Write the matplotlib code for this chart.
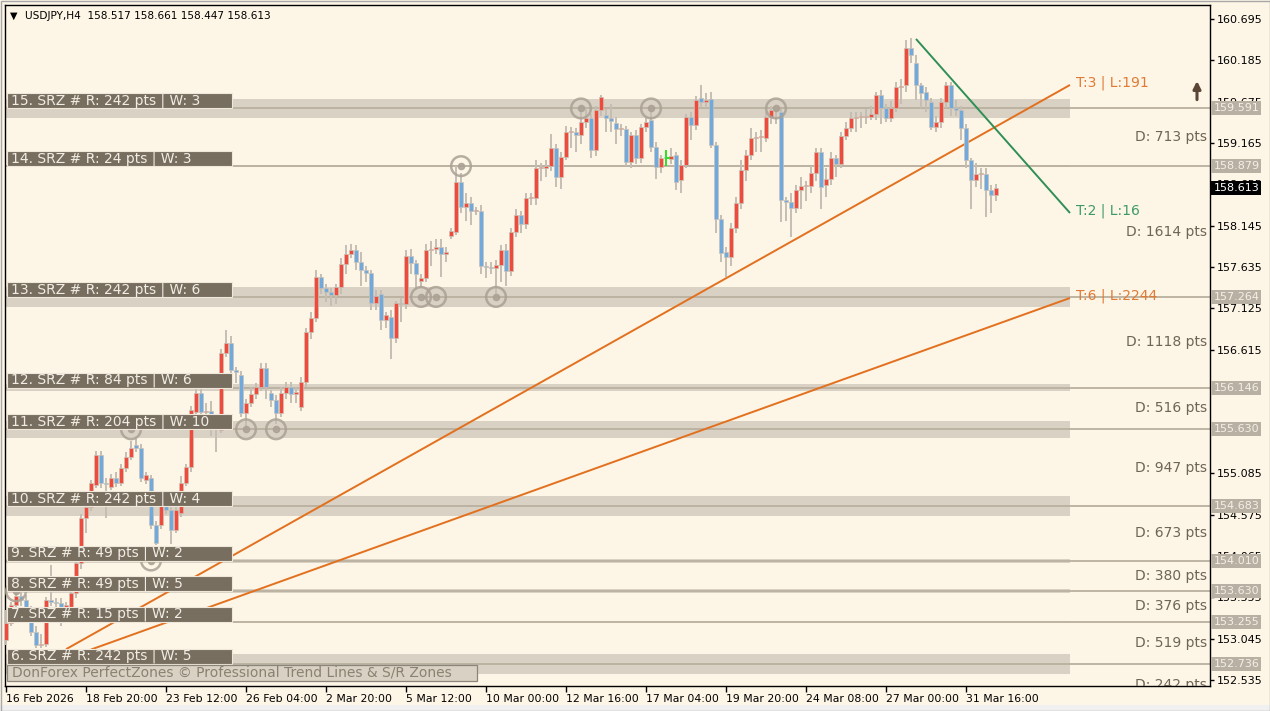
import matplotlib
matplotlib.use("Agg")
import matplotlib.pyplot as plt
import matplotlib.transforms as mtransforms
from matplotlib.patches import Rectangle
import numpy as np

plt.rcParams['font.family'] = ['DejaVu Sans']

BG = "#fdf5e6"

# ---------------- data ----------------
opens = [153.03,153.24,153.46,153.57,153.52,153.40,153.13,152.97,152.98,153.52,
         153.50,153.49,153.37,153.44,153.61,153.98,154.54,154.67,154.94,155.31,
         154.97,154.92,155.03,154.97,155.15,155.29,155.44,155.40,155.00,155.03,
         154.45,154.45,154.72,154.63,154.39,154.60,154.97,155.16,155.84,156.08,
         155.84,155.85,155.68,155.62,156.57,156.70,156.36,156.30,155.83,155.96,
         156.07,156.15,156.39,156.08,155.99,155.83,156.08,156.15,156.07,155.90,
         156.21,156.83,157.00,157.51,157.37,157.33,157.29,157.39,157.67,157.79,
         157.84,157.70,157.60,157.56,157.19,157.30,156.98,157.02,156.76,157.19,
         157.18,157.77,157.68,157.46,157.50,157.84,157.86,157.88,157.80,158.02,
         158.07,158.68,158.37,158.42,158.33,158.33,157.65,157.63,157.62,157.66,
         157.84,157.58,158.07,158.28,158.17,158.49,158.49,158.86,158.86,158.88,
         159.10,158.75,158.99,159.30,159.30,159.26,159.42,159.47,159.08,159.57,
         159.51,159.47,159.41,159.34,159.34,158.93,159.26,158.98,159.36,159.45,
         159.12,158.87,158.98,158.97,159.02,158.71,158.89,159.49,159.39,159.72,
         159.67,159.71,159.14,158.23,157.82,157.76,158.12,158.42,158.83,159.02,
         159.23,159.24,159.23,159.49,159.57,159.55,158.46,158.44,158.36,158.58,
         158.63,158.63,158.79,159.05,158.65,158.72,158.98,158.91,159.25,159.35,
         159.47,159.49,159.49,159.49,159.52,159.76,159.60,159.47,159.60,159.86,
         159.88,160.34,160.15,159.88,159.79,159.67,159.36,159.42,159.67,159.88,
         159.60,159.57,159.35,158.96,158.71,158.78,158.78,158.58,158.517]
closes = [153.24,153.46,153.57,153.52,153.40,153.13,152.97,152.98,153.52,153.50,
          153.49,153.37,153.46,153.61,153.98,154.54,154.67,154.97,155.31,154.97,
          154.96,155.03,154.97,155.15,155.29,155.40,155.40,155.03,155.07,154.45,
          154.23,154.72,154.63,154.39,154.63,154.97,155.16,155.87,156.08,155.84,
          155.85,155.68,155.63,156.57,156.70,156.36,156.34,155.83,155.96,156.07,
          156.15,156.39,156.15,155.99,155.83,156.08,156.15,156.07,156.09,156.21,
          156.83,157.00,157.51,157.37,157.33,157.29,157.39,157.67,157.79,157.84,
          157.70,157.60,157.56,157.19,157.28,156.98,157.04,156.76,157.19,157.18,
          157.77,157.68,157.55,157.50,157.84,157.86,157.88,157.80,157.82,158.08,
          158.68,158.37,158.42,158.33,158.33,157.65,157.63,157.62,157.66,157.84,
          157.58,158.07,158.28,158.17,158.49,158.49,158.86,158.86,158.88,159.10,
          158.75,158.99,159.30,159.30,159.26,159.42,159.47,159.08,159.57,159.73,
          159.47,159.44,159.34,159.34,158.93,159.26,158.98,159.36,159.42,159.12,
          158.87,158.98,158.98,159.00,158.68,158.89,159.49,159.39,159.70,159.67,
          159.70,159.14,158.23,157.81,157.76,158.12,158.42,158.83,159.02,159.23,
          159.24,159.24,159.49,159.57,159.58,158.46,158.44,158.36,158.58,158.63,
          158.63,158.79,159.05,158.62,158.72,158.98,158.91,159.25,159.35,159.47,
          159.49,159.49,159.49,159.52,159.76,159.60,159.47,159.60,159.86,159.87,
          160.34,160.25,159.88,159.78,159.70,159.36,159.42,159.67,159.88,159.60,
          159.57,159.35,158.96,158.71,158.78,158.78,158.58,158.52,158.613]
highs = [153.40,153.50,153.62,153.63,153.58,153.45,153.20,153.10,153.56,153.95,
         153.55,153.55,153.50,153.66,154.02,154.58,154.72,155.00,155.36,155.36,
         155.03,155.08,155.10,155.20,155.35,155.48,155.52,155.45,155.10,155.06,
         154.50,154.78,154.80,154.68,154.67,155.05,155.20,155.92,156.22,156.20,
         155.95,155.98,155.80,156.62,156.85,156.78,156.40,156.35,156.00,156.15,
         156.20,156.45,156.45,156.12,156.05,156.15,156.22,156.22,156.15,156.28,
         156.88,157.08,157.60,157.55,157.42,157.38,157.42,157.75,157.90,157.92,
         157.90,157.82,157.65,157.60,157.35,157.35,157.08,157.10,157.22,157.25,
         157.84,157.85,157.72,157.55,157.92,157.95,157.98,157.98,157.88,158.12,
         158.88,158.80,158.55,158.50,158.38,158.40,157.70,157.70,157.72,157.90,
         157.92,158.12,158.35,158.32,158.55,158.55,158.95,158.92,158.95,159.28,
         159.15,159.05,159.38,159.36,159.35,159.60,159.60,159.52,159.62,159.76,
         159.58,159.65,159.48,159.40,159.38,159.30,159.32,159.40,159.48,159.60,
         159.18,159.02,159.08,159.10,159.05,158.95,159.52,159.55,159.75,159.88,
         159.78,159.80,159.18,158.28,157.88,158.18,158.50,158.95,159.08,159.35,
         159.30,159.32,159.55,159.62,159.60,159.58,158.50,158.55,158.65,158.75,
         158.70,158.88,159.10,159.10,158.85,159.05,159.02,159.30,159.42,159.55,
         159.55,159.55,159.58,159.62,159.80,159.82,159.65,159.68,159.92,159.95,
         160.44,160.46,160.25,159.90,159.85,159.72,159.50,159.72,159.92,159.92,
         159.70,159.62,159.40,158.98,158.92,158.85,158.85,158.65,158.661]
lows = [152.97,153.20,153.42,153.45,153.36,153.08,152.93,152.93,152.94,153.45,
        153.40,153.20,153.30,153.40,153.55,153.90,154.35,154.62,154.90,154.90,
        154.54,154.88,154.92,154.93,155.10,155.25,155.35,154.98,154.96,154.40,
        154.20,154.40,154.58,154.22,154.35,154.55,154.93,155.10,155.80,155.80,
        155.75,155.55,155.35,155.58,156.52,156.30,156.20,155.78,155.65,155.90,
        156.00,156.10,156.00,155.90,155.70,155.78,156.00,155.95,155.95,155.85,
        156.15,156.75,156.95,157.30,157.20,157.15,157.18,157.30,157.55,157.75,
        157.60,157.40,157.45,157.10,157.10,156.85,156.88,156.50,156.70,156.95,
        157.12,157.55,157.35,157.38,157.45,157.65,157.80,157.51,157.70,157.98,
        158.03,158.30,158.20,158.15,158.28,157.55,157.50,157.55,157.30,157.45,
        157.40,157.52,158.00,158.05,158.10,158.40,158.40,158.70,158.75,158.82,
        158.62,158.60,158.95,159.10,159.05,159.15,159.35,158.98,159.00,159.50,
        159.30,159.30,159.15,159.25,158.88,158.85,158.90,158.92,159.30,159.05,
        158.72,158.80,158.88,158.90,158.58,158.55,158.85,159.20,159.33,159.60,
        159.60,159.10,158.05,157.70,157.51,157.65,158.05,158.35,158.70,158.95,
        159.05,159.05,159.18,159.40,159.40,158.19,158.20,158.00,158.30,158.35,
        158.45,158.55,158.70,158.35,158.50,158.65,158.75,158.85,159.20,159.30,
        159.30,159.35,159.40,159.45,159.45,159.40,159.42,159.42,159.55,159.65,
        159.80,160.15,159.70,159.60,159.55,159.32,159.30,159.35,159.60,159.50,
        159.50,159.20,158.85,158.35,158.62,158.60,158.25,158.30,158.447]

green_doji_bar = 132

date_tick_bars = [0, 16, 32, 48, 64, 80, 96, 112, 128, 144, 160, 176, 192]
date_tick_labels = ["16 Feb 2026", "18 Feb 20:00", "23 Feb 12:00", "26 Feb 04:00",
                    "2 Mar 20:00", "5 Mar 12:00", "10 Mar 00:00", "12 Mar 16:00",
                    "17 Mar 04:00", "19 Mar 20:00", "24 Mar 08:00", "27 Mar 00:00",
                    "31 Mar 16:00"]

price_ticks = [160.695, 160.185, 159.675, 159.165, 158.655, 158.145, 157.635,
               157.125, 156.615, 156.105, 155.595, 155.085, 154.575, 154.065,
               153.555, 153.045, 152.535]

zone_ids = [15, 14, 13, 12, 11, 10, 9, 8, 7, 6]
zone_levels = [159.591, 158.879, 157.264, 156.146, 155.630, 154.683, 154.010,
               153.630, 153.255, 152.736]
zone_range_pts = [242, 24, 242, 84, 204, 242, 49, 49, 15, 242]
zone_weights = [3, 3, 6, 6, 10, 4, 2, 5, 2, 5]
zone_dist_pts = [713, 1614, 1118, 516, 947, 673, 380, 376, 519, 242]

# touch circles: (bar, zone level)
touch_bars = [115, 129, 154, 91, 83, 86, 98, 25, 48, 54, 29, 2]
touch_levels = [159.591, 159.591, 159.591, 158.879, 157.264, 157.264, 157.264,
                155.630, 155.630, 155.630, 154.010, 153.630]

# trend lines
tl_names = ["T:3 | L:191", "T:6 | L:2244", "T:2 | L:16"]
tl_x = [[12.0, 212.8], [17.0, 212.8], [182.0, 212.8]]
tl_y = [[152.915, 159.881], [152.911, 157.251], [160.449, 158.300]]
tl_colors = ["#e2701e", "#e2701e", "#2f8f57"]
tl_label_colors = ["#e07a35", "#e07a35", "#3c9a6a"]

last_price = 158.613
title = "USDJPY,H4  158.517 158.661 158.447 158.613"

# ---------------- figure ----------------
W, H = 1270, 711
fig = plt.figure(figsize=(W / 100, H / 100), dpi=100, facecolor=BG)
ax = fig.add_axes([5 / W, (H - 686) / H, 1205 / W, 681 / H])
ax.set_facecolor(BG)
ax.set_xlim(-0.2, 240.8)
ax.set_ylim(152.461, 160.868)

trans = mtransforms.blended_transform_factory(ax.transAxes, ax.transData)

# zones
for lvl, r in zip(zone_levels, zone_range_pts):
    half = r * 0.001 / 2
    ax.add_patch(Rectangle((-0.2, lvl - half), 213.0, 2 * half,
                           facecolor="#d9d1c3", edgecolor="none", zorder=1))
    ax.axhline(lvl, color="#b9b0a0", lw=1.3, zorder=1.5)

# trend lines
for xs, ys, c in zip(tl_x, tl_y, tl_colors):
    ax.plot(xs, ys, color=c, lw=1.4, zorder=2, solid_capstyle="butt")

# candles
o = np.array(opens); c = np.array(closes); hi = np.array(highs); lo = np.array(lows)
x = np.arange(len(o))
ax.vlines(x, lo, hi, color="#c4beb4", lw=1.4, zorder=3)
up = c >= o
body_bottom = np.minimum(o, c)
body_h = np.maximum(np.abs(c - o), 0.012)
cols = np.where(up, "#ef4a3b", "#6fa9de").tolist()
cols[green_doji_bar] = "#2ee02e"
ax.bar(x, body_h, bottom=body_bottom, width=0.74, color=cols,
       edgecolor="#c9c2b6", linewidth=0.5, zorder=4)
gx = green_doji_bar
ax.vlines([gx], [lows[gx]], [highs[gx]], color="#2ee02e", lw=1.4, zorder=4.5)
ax.hlines([closes[gx]], gx, gx + 0.8, color="#2ee02e", lw=1.4, zorder=4.5)

# touch circles
ax.scatter(touch_bars, touch_levels, s=200, facecolors="none",
           edgecolors="#aaa194", linewidths=1.8, zorder=5, alpha=0.85)
ax.scatter(touch_bars, touch_levels, s=20, color="#aaa194", zorder=5, alpha=0.85)

# zone label boxes
box_h = 0.185
for zid, lvl, r, w in zip(zone_ids, zone_levels, zone_range_pts, zone_weights):
    ax.add_patch(Rectangle((0.2, lvl), 45.0, box_h, facecolor="#776e60",
                           edgecolor="#efe8da", lw=0.8, zorder=6))
    ax.text(1.0, lvl + box_h / 2, f"{zid}. SRZ # R: {r} pts | W: {w}",
            fontsize=10, color="#f2ede3", va="center", ha="left", zorder=7)

# distance labels (the last one is cut by the bottom of the plot)
for i, d in enumerate(zone_dist_pts):
    if i + 1 < len(zone_levels):
        ymid = (zone_levels[i] + zone_levels[i + 1]) / 2
    else:
        ymid = zone_levels[i] - 0.26
    t = ax.text(0.9975, ymid, f"D: {d} pts", transform=trans, ha="right",
                va="center", fontsize=10, color="#6f6557", zorder=7)
    if i + 1 == len(zone_levels):
        t.set_clip_on(True)
        t.set_clip_box(ax.bbox)

# trend line labels
for name, xs, ys, lc in zip(tl_names, tl_x, tl_y, tl_label_colors):
    ax.text(xs[1] + 1.2, ys[1] + 0.03, name, fontsize=10, color=lc,
            va="center", ha="left", zorder=7)

# arrow
ax.annotate("", xy=(238.2, 159.93), xytext=(238.2, 159.70),
            arrowprops=dict(arrowstyle="-|>", color="#5b4636", lw=2.2,
                            mutation_scale=11, shrinkA=0, shrinkB=0), zorder=7)

# axes styling
for s in ax.spines.values():
    s.set_color("#000000"); s.set_linewidth(1.0)
ax.yaxis.tick_right()
ax.set_yticks(price_ticks)
ax.set_yticklabels([f"{p:.3f}" for p in price_ticks])
ax.tick_params(axis="y", direction="out", length=3, pad=2, labelsize=8,
               colors="#000000", width=1)
ax.set_xticks(date_tick_bars)
ax.set_xticklabels(date_tick_labels)
for lbl in ax.get_xticklabels():
    lbl.set_ha("left")
ax.tick_params(axis="x", direction="out", length=4, pad=2, labelsize=7.8,
               colors="#000000", width=1)

# right-side zone price labels (drawn over the price scale, as in the terminal)
for lvl in zone_levels:
    ax.text(1.0028, lvl, f"{lvl:.3f}", transform=trans, ha="left", va="center",
            fontsize=8, color="#f4efe6", zorder=10, clip_on=False,
            bbox=dict(boxstyle="square,pad=0.18", fc="#b8b0a2", ec="none"))
ax.text(1.0028, last_price, f"{last_price:.3f}", transform=trans, ha="left",
        va="center", fontsize=8, color="#ffffff", zorder=11, clip_on=False,
        bbox=dict(boxstyle="square,pad=0.18", fc="#000000", ec="none"))

# title
fig.text(10 / W, 1 - 16 / H, "\u25bc", fontsize=7, color="#000000", va="center", ha="left")
fig.text(25 / W, 1 - 16 / H, title, fontsize=7.6, color="#000000", va="center", ha="left")

# watermark box
fig.add_artist(Rectangle((7 / W, 1 - 681 / H), 470 / W, 16 / H,
                         transform=fig.transFigure, facecolor="#d9d1c3",
                         edgecolor="#8c857a", lw=0.9, zorder=20))
fig.text(12 / W, 1 - 673 / H,
         "DonForex PerfectZones \u00a9 Professional Trend Lines & S/R Zones",
         fontsize=10, color="#8a8171", va="center", ha="left", zorder=21)

# bottom strip + outer frame
fig.add_artist(Rectangle((0, 0), 1, 6 / H, transform=fig.transFigure,
                         facecolor="#f0f0f0", edgecolor="none", zorder=0))
fig.add_artist(Rectangle((0.5 / W, 0.5 / H), 1 - 1 / W, 1 - 1 / H,
                         transform=fig.transFigure, facecolor="none",
                         edgecolor="#a8a8a8", lw=1, zorder=30))

fig.savefig("out.png", dpi=100, facecolor=BG)
